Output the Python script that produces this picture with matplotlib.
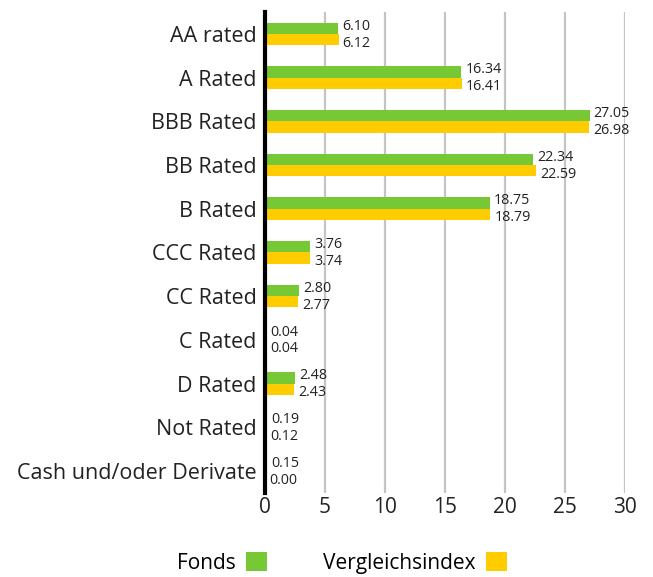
import numpy as np
import matplotlib.pyplot as plt

plt.rcParams['font.family'] = ['Open Sans', 'DejaVu Sans']

categories = ["AA rated", "A Rated", "BBB Rated", "BB Rated", "B Rated", "CCC Rated",
              "CC Rated", "C Rated", "D Rated", "Not Rated", "Cash und/oder Derivate"]
fonds = [6.10, 16.34, 27.05, 22.34, 18.75, 3.76, 2.80, 0.04, 2.48, 0.19, 0.15]
index = [6.12, 16.41, 26.98, 22.59, 18.79, 3.74, 2.77, 0.04, 2.43, 0.12, 0.00]

GREEN = "#76C935"
YELLOW = "#FFCC00"

fig = plt.figure(figsize=(6.53, 5.77), dpi=100)
ax = fig.add_axes([0.406, 0.146, 0.551, 0.833])

y = np.arange(len(categories))
h = 0.26
ax.barh(y - h / 2, fonds, height=h, color=GREEN, label="Fonds", zorder=3)
ax.barh(y + h / 2, index, height=h, color=YELLOW, label="Vergleichsindex", zorder=3)

for i in range(len(categories)):
    ax.annotate(f"{fonds[i]:.2f}", (fonds[i], y[i] - h / 2), xytext=(3, 1.5),
                textcoords="offset points", va="center", ha="left", fontsize=10.3, color="#222222")
    ax.annotate(f"{index[i]:.2f}", (index[i], y[i] + h / 2), xytext=(3, -2.5),
                textcoords="offset points", va="center", ha="left", fontsize=10.3, color="#222222")

ax.set_yticks(y)
ax.set_yticklabels(categories, fontsize=15.5, color="#222222")
ax.set_ylim(len(categories) - 0.5, -0.5)
ax.set_xlim(0, 30)
ax.set_xticks([0, 5, 10, 15, 20, 25, 30])
ax.tick_params(axis="x", labelsize=15, length=0, pad=3, colors="#222222")
ax.tick_params(axis="y", length=0, pad=6)
ax.grid(axis="x", color="#c4c4c4", linewidth=1.6, zorder=0)
for s in ["top", "right", "bottom"]:
    ax.spines[s].set_visible(False)
ax.spines["left"].set_linewidth(3)
ax.spines["left"].set_color("black")
ax.spines["left"].set_zorder(4)

ax.legend(loc="center", bbox_to_anchor=(0.214, -0.146), ncol=2, frameon=False,
          markerfirst=False, fontsize=15, handlelength=1.0, handleheight=1.0,
          columnspacing=2.7, handletextpad=0.5)

fig.savefig("out.png", dpi=100)
